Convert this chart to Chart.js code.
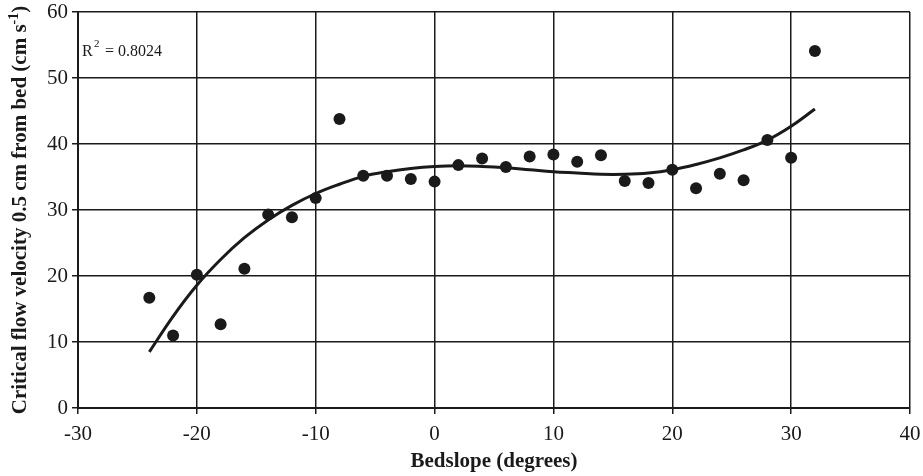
<!DOCTYPE html>
<html>
<head>
<meta charset="utf-8">
<script src="https://cdn.jsdelivr.net/npm/chart.js@4.4.1/dist/chart.umd.min.js"></script>
<style>
    html, body { margin: 0; padding: 0; background: #fff; }
    #wrap { width: 923px; height: 476px; }
</style>
</head>
<body>
<div id="wrap"><canvas id="chart" width="923" height="476"></canvas></div>
<script>
// Bedslope (degrees) of each run
const slopes = [-24, -22, -20, -18, -16, -14, -12, -10, -8, -6, -4, -2, 0, 2, 4, 6, 8, 10, 12, 14, 16, 18, 20, 22, 24, 26, 28, 30, 32];
// Critical flow velocity 0.5 cm from bed (cm/s)
const velocity = [16.7, 11.0, 20.2, 12.7, 21.1, 29.3, 28.9, 31.8, 43.8, 35.2, 35.2, 34.7, 34.3, 36.8, 37.8, 36.5, 38.1, 38.4, 37.3, 38.3, 34.4, 34.1, 36.1, 33.3, 35.5, 34.5, 40.6, 37.9, 54.1];
// Polynomial trend line at the same slopes
const trend = [8.5, 13.9, 18.6, 22.5, 25.8, 28.5, 30.7, 32.5, 33.9, 35.1, 35.8, 36.3, 36.6, 36.7, 36.6, 36.4, 36.1, 35.8, 35.6, 35.4, 35.4, 35.6, 36.1, 36.9, 37.9, 39.1, 40.6, 42.7, 45.3];
const xTicks = [-30, -20, -10, 0, 10, 20, 30, 40];
const yTicks = [0, 10, 20, 30, 40, 50, 60];
const rSquared = '0.8024';

const ink = '#1a1a1a';
const serif = "'Liberation Serif', 'Times New Roman', serif";

// y axis title with a real superscript, and the R² note
const annotations = {
    id: 'annotations',
    afterDraw(chart) {
        const ctx = chart.ctx;
        const area = chart.chartArea;
        ctx.save();
        ctx.fillStyle = ink;

        // R² = ...
        ctx.textBaseline = 'alphabetic';
        ctx.font = '16px ' + serif;
        ctx.fillText('R', 82, 56);
        ctx.font = '11px ' + serif;
        ctx.fillText('2', 94, 47);
        ctx.font = '16px ' + serif;
        ctx.fillText('= ' + rSquared, 105, 56);

        // rotated y title
        const main = 'Critical flow velocity 0.5 cm from bed (cm s';
        const sup = '-1';
        const close = ')';
        ctx.translate(21, (area.top + area.bottom) / 2);
        ctx.rotate(-Math.PI / 2);
        ctx.textBaseline = 'middle';
        ctx.font = 'bold 21px ' + serif;
        const wMain = ctx.measureText(main).width;
        const wClose = ctx.measureText(close).width;
        ctx.font = 'bold 14px ' + serif;
        const wSup = ctx.measureText(sup).width;
        let x = -(wMain + wSup + wClose) / 2;
        ctx.font = 'bold 21px ' + serif;
        ctx.fillText(main, x, 0);
        x += wMain;
        ctx.font = 'bold 14px ' + serif;
        ctx.fillText(sup, x, -7);
        x += wSup;
        ctx.font = 'bold 21px ' + serif;
        ctx.fillText(close, x, 0);
        ctx.restore();
    }
};

const points = slopes.map((s, i) => ({ x: s, y: velocity[i] }));
const curve = slopes.map((s, i) => ({ x: s, y: trend[i] }));

new Chart(document.getElementById('chart'), {
    type: 'scatter',
    data: {
        datasets: [{
            label: 'Measured',
            data: points,
            backgroundColor: ink,
            borderColor: ink,
            pointRadius: 6,
            pointHoverRadius: 6,
            borderWidth: 0
        }, {
            label: 'Trend',
            data: curve,
            showLine: true,
            borderColor: ink,
            borderWidth: 3,
            pointRadius: 0,
            tension: 0.4,
            fill: false
        }]
    },
    options: {
        responsive: false,
        animation: false,
        events: [],
        layout: { padding: { left: 0, right: 13, top: 12, bottom: 0 } },
        plugins: {
            legend: { display: false },
            tooltip: { enabled: false }
        },
        scales: {
            x: {
                type: 'linear',
                min: xTicks[0],
                max: xTicks[xTicks.length - 1],
                afterBuildTicks: (scale) => { scale.ticks = xTicks.map(v => ({ value: v })); },
                afterFit: (scale) => {
                    scale.height = 68;
                    scale.paddingLeft = 0;
                    scale.paddingRight = 0;
                },
                ticks: { color: ink, font: { family: serif, size: 21 }, padding: 8, maxRotation: 0 },
                grid: { color: ink, lineWidth: 1.5, tickLength: 6, drawTicks: true },
                border: { color: ink, width: 2 },
                title: {
                    display: true,
                    text: 'Bedslope (degrees)',
                    color: ink,
                    font: { family: serif, size: 21, weight: 'bold' },
                    padding: { top: 0, bottom: 2 }
                }
            },
            y: {
                min: yTicks[0],
                max: yTicks[yTicks.length - 1],
                afterBuildTicks: (scale) => { scale.ticks = yTicks.map(v => ({ value: v })); },
                afterFit: (scale) => {
                    scale.width = 78;
                    scale.paddingTop = 0;
                    scale.paddingBottom = 0;
                },
                ticks: { color: ink, font: { family: serif, size: 21 }, padding: 4 },
                grid: { color: ink, lineWidth: 1.5, tickLength: 6, drawTicks: true },
                border: { color: ink, width: 2 }
            }
        }
    },
    plugins: [annotations]
});
</script>
</body>
</html>
